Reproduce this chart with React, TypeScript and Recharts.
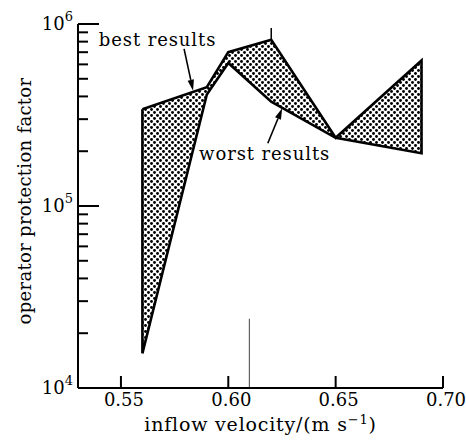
import { ComposedChart, Area, Line, XAxis, YAxis, ReferenceLine, ReferenceDot } from 'recharts'

// inflow velocity in m/s
const velocity = [0.56, 0.59, 0.6, 0.62, 0.65, 0.69]
// operator protection factor, upper and lower envelope
const bestResults = [340000, 450000, 700000, 820000, 237000, 630000]
const worstResults = [15500, 410000, 610000, 374000, 237000, 195000]

const xTicks = [0.55, 0.6, 0.65, 0.7]
const yTicks = [
  10000, 20000, 30000, 40000, 50000, 60000, 70000, 80000, 90000,
  100000, 200000, 300000, 400000, 500000, 600000, 700000, 800000, 900000,
  1000000,
]

const FONT = 'DejaVu Serif'

const data = velocity.map((v, i) => ({ v, range: [worstResults[i], bestResults[i]] }))

// closed outline: best curve left to right, worst curve back again
const outline = [
  ...velocity.map((v, i) => ({ v, p: bestResults[i] })),
  ...velocity.map((v, i) => ({ v, p: worstResults[i] })).reverse(),
  { v: velocity[0], p: bestResults[0] },
]

function XTick({ x, y, payload }: any) {
  return (
    <g>
      <line x1={x} x2={x} y1={y} y2={y - 12} stroke="#000" strokeWidth={2} />
      <text x={x + 3} y={y + 18} textAnchor="middle" fontFamily={FONT} fontSize={18} fill="#000">
        {payload.value.toFixed(2)}
      </text>
    </g>
  )
}

function YTick({ x, y, payload }: any) {
  const lg = Math.log10(payload.value)
  const exp = Math.round(lg)
  const major = Math.abs(lg - exp) < 1e-6
  return (
    <g>
      <line x1={x} x2={x + (major ? 21 : 10)} y1={y} y2={y} stroke="#000" strokeWidth={2} />
      {major && (
        <text x={x - 5} y={y + 6} textAnchor="end" fontFamily={FONT} fontSize={18} fill="#000">
          10
          <tspan dy={-9} fontSize={13}>
            {exp}
          </tspan>
        </text>
      )}
    </g>
  )
}

function Arrow({ x1, y1, x2, y2 }: any) {
  const a = Math.atan2(y2 - y1, x2 - x1)
  const len = 11
  const w = 3.2
  const bx = x2 - len * Math.cos(a)
  const by = y2 - len * Math.sin(a)
  const px = -Math.sin(a) * w
  const py = Math.cos(a) * w
  return (
    <g>
      <line x1={x1} y1={y1} x2={bx} y2={by} stroke="#000" strokeWidth={1.6} />
      <polygon points={`${x2},${y2} ${bx + px},${by + py} ${bx - px},${by - py}`} fill="#000" />
    </g>
  )
}

const noteText = (label: string) => ({ cx, cy }: any) => (
  <text x={cx} y={cy} fontFamily={FONT} fontSize={18} letterSpacing={0.9} fill="#000">
    {label}
  </text>
)

export default function App() {
  return (
    <div style={{ position: 'absolute', left: 0, top: 0, background: '#fff' }}>
      <ComposedChart width={466} height={440} data={data} margin={{ top: 24, right: 23, left: 0, bottom: 0 }}>
        <defs>
          <pattern id="dots" width="6" height="6" patternUnits="userSpaceOnUse">
            <rect width="6" height="6" fill="#fff" />
            <circle cx="1.5" cy="1.5" r="1.45" fill="#000" />
            <circle cx="4.5" cy="4.5" r="1.45" fill="#000" />
          </pattern>
        </defs>
        <XAxis
          dataKey="v"
          type="number"
          domain={[0.53, 0.7]}
          ticks={xTicks}
          interval={0}
          height={52}
          tickSize={0}
          tickMargin={0}
          tickLine={false}
          tick={XTick}
          axisLine={{ stroke: '#000', strokeWidth: 2 }}
          allowDataOverflow
          label={{
            content: ({ viewBox }: any) => (
              <text
                x={viewBox.x + viewBox.width / 2}
                y={viewBox.y + 43}
                textAnchor="middle"
                fontFamily={FONT}
                fontSize={19}
                letterSpacing={0.8}
                fill="#000"
              >
                inflow velocity/(m s
                <tspan dy={-7} fontSize={13}>
                  −1
                </tspan>
                <tspan dy={7}>)</tspan>
              </text>
            ),
          }}
        />
        <YAxis
          type="number"
          scale="log"
          domain={[10000, 1000000]}
          allowDataOverflow
          ticks={yTicks}
          interval={0}
          width={78}
          tickSize={0}
          tickMargin={0}
          tickLine={false}
          tick={YTick}
          axisLine={{ stroke: '#000', strokeWidth: 2 }}
          label={{
            content: ({ viewBox }: any) => (
              <text
                x={24}
                y={viewBox.y + viewBox.height / 2 - 5}
                transform={`rotate(-90, 24, ${viewBox.y + viewBox.height / 2 - 5})`}
                textAnchor="middle"
                dominantBaseline="central"
                fontFamily={FONT}
                fontSize={18}
                letterSpacing={0.3}
                fill="#000"
              >
                operator protection factor
              </text>
            ),
          }}
        />
        <Area
          type="linear"
          dataKey="range"
          stroke="none"
          fill="url(#dots)"
          fillOpacity={1}
          isAnimationActive={false}
        />
        <Line
          data={outline}
          dataKey="p"
          type="linear"
          stroke="#000"
          strokeWidth={2.6}
          strokeLinejoin="miter"
          dot={false}
          activeDot={false}
          isAnimationActive={false}
        />
        <ReferenceLine
          segment={[
            { x: 0.62, y: 820000 },
            { x: 0.62, y: 950000 },
          ]}
          stroke="#000"
          strokeWidth={1.5}
        />
        <ReferenceLine
          segment={[
            { x: 0.6098, y: 10000 },
            { x: 0.6098, y: 24000 },
          ]}
          stroke="#444"
          strokeWidth={1}
        />
        <ReferenceLine
          segment={[
            { x: 0.5794, y: 730000 },
            { x: 0.5836, y: 430000 },
          ]}
          shape={Arrow}
        />
        <ReferenceLine
          segment={[
            { x: 0.6184, y: 221000 },
            { x: 0.6251, y: 344000 },
          ]}
          shape={Arrow}
        />
        <ReferenceDot x={0.5397} y={757000} r={0} shape={noteText('best results')} />
        <ReferenceDot x={0.5864} y={179000} r={0} shape={noteText('worst results')} />
      </ComposedChart>
    </div>
  )
}
